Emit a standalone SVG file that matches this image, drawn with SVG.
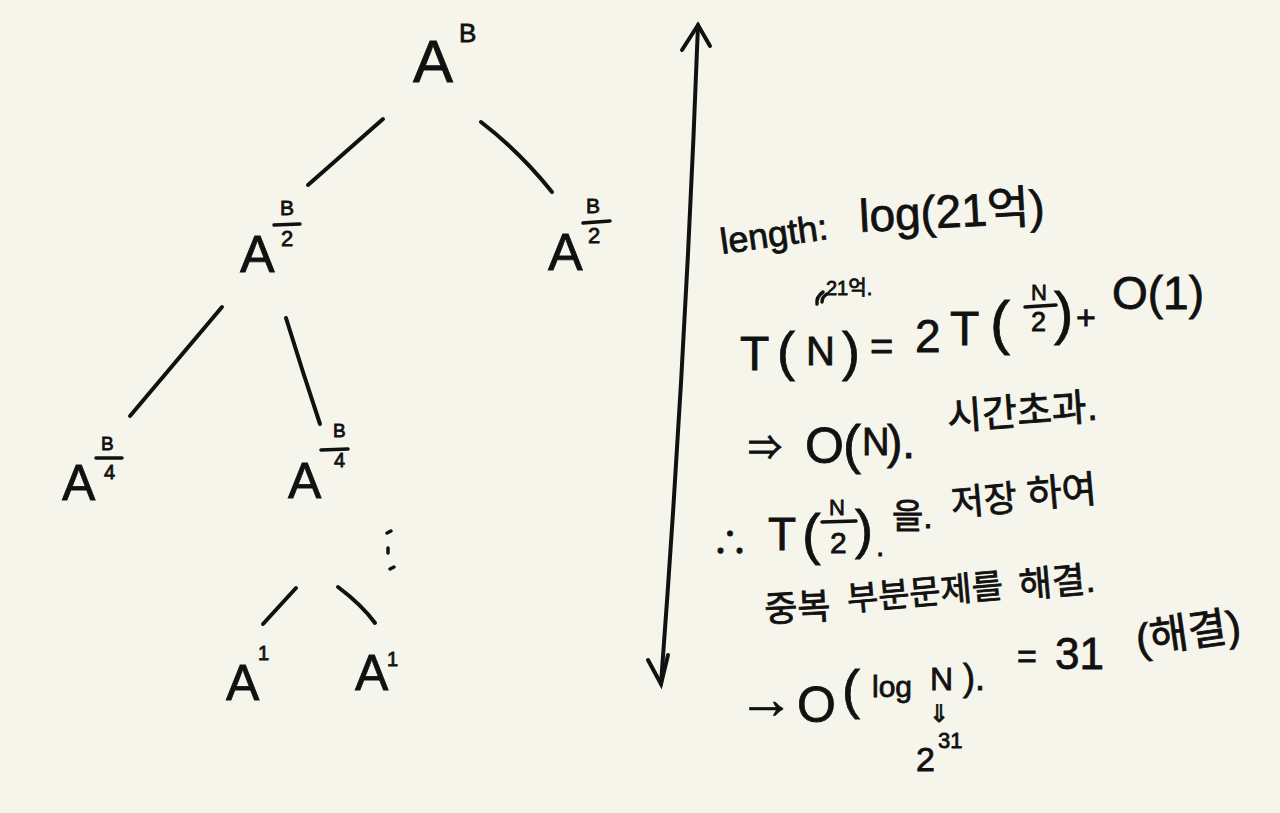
<svg xmlns="http://www.w3.org/2000/svg" width="1280" height="813" viewBox="0 0 1280 813">
<style>
text{font-family:"Liberation Sans","Noto Sans CJK KR",sans-serif;fill:#111;stroke:#111;stroke-width:0.8;}
.ln{stroke:#111;stroke-width:4;stroke-linecap:round;fill:none;}
.fr{stroke:#111;stroke-width:3.5;stroke-linecap:round;}
</style>
<rect width="1280" height="813" fill="#f6f5eb"/>
<g id="connectors">
<line class="ln" x1="383" y1="119" x2="308" y2="185"/>
<path class="ln" d="M481 122 Q520 152 552 192"/>
<line class="ln" x1="222" y1="307" x2="130" y2="416"/>
<path class="ln" d="M286 318 Q302 370 320 424"/>
<line class="ln" x1="296" y1="588" x2="263" y2="624"/>
<path class="ln" d="M338 587 Q362 605 375 623"/>
<path class="ln" d="M698 25 Q686 350 661 684"/>
<polyline class="ln" points="682,50 698,25 710,46"/>
<polyline class="ln" points="648,660 661,684 668,655"/>
</g>
<g id="node-AB">
<text x="413" y="82" font-size="60">A</text>
<text x="459" y="42" font-size="26">B</text>
</g>
<g id="node-AB2-left">
<text x="240" y="272" font-size="52">A</text>
<text x="280" y="215" font-size="21">B</text>
<line class="fr" x1="274" y1="225" x2="300" y2="224"/>
<text x="281" y="246" font-size="22">2</text>
</g>
<g id="node-AB2-right">
<text x="548" y="270" font-size="52">A</text>
<text x="586" y="213" font-size="21">B</text>
<line class="fr" x1="583" y1="223" x2="610" y2="221"/>
<text x="588" y="243" font-size="22">2</text>
</g>
<g id="node-AB4-left">
<text x="62" y="500" font-size="50">A</text>
<text x="101" y="450" font-size="19">B</text>
<line class="fr" x1="96" y1="458" x2="122" y2="458"/>
<text x="104" y="479" font-size="20">4</text>
</g>
<g id="node-AB4-right">
<text x="288" y="498" font-size="50">A</text>
<text x="333" y="437" font-size="19">B</text>
<line class="fr" x1="321" y1="450" x2="348" y2="449"/>
<text x="334" y="467" font-size="20">4</text>
</g>
<g id="dots">
<line class="fr" x1="387" y1="533" x2="391" y2="531"/>
<line class="fr" x1="388" y1="548" x2="388" y2="553"/>
<line class="fr" x1="390" y1="569" x2="394" y2="567"/>
</g>
<g id="node-A1-left">
<text x="226" y="700" font-size="50">A</text>
<text x="258" y="660" font-size="20">1</text>
</g>
<g id="node-A1-right">
<text x="355" y="690" font-size="50">A</text>
<text x="387" y="666" font-size="20">1</text>
</g>
<g id="notes">
<text x="722" y="254" font-size="36" transform="rotate(-8 722 254)">length:</text>
<text x="860" y="232" font-size="46" transform="rotate(-3 860 232)">log(21억)</text>
<text x="826" y="295" font-size="20">21억.</text>
<path class="fr" stroke-width="2.5" fill="none" d="M817 304 Q816 297 823 292 M822 302 Q822 297 827 294"/>

<text x="740" y="370" font-size="48">T</text>
<text x="777" y="370" font-size="54">(</text>
<text x="806" y="365" font-size="40">N</text>
<text x="842" y="370" font-size="54">)</text>
<text x="870" y="360" font-size="40">=</text>
<text x="915" y="352" font-size="46">2</text>
<text x="950" y="345" font-size="48">T</text>
<text x="990" y="343" font-size="60">(</text>
<text x="1031" y="300" font-size="22">N</text>
<line class="fr" x1="1025" y1="307" x2="1056" y2="305"/>
<text x="1031" y="331" font-size="27">2</text>
<text x="1054" y="333" font-size="58">)</text>
<text x="1076" y="329" font-size="34">+</text>
<text x="1112" y="309" font-size="46">O(1)</text>

<text x="748" y="460" font-size="34">⇒</text>
<text x="805" y="463" font-size="50">O</text>
<text x="843" y="463" font-size="54">(</text>
<text x="862" y="455" font-size="38">N</text>
<text x="887" y="458" font-size="46">).</text>
<text x="948" y="430" font-size="38" transform="rotate(-4 948 430)">시간초과.</text>

<text x="712" y="556" font-size="36">∴</text>
<text x="768" y="550" font-size="46">T</text>
<text x="802" y="553" font-size="56">(</text>
<text x="829" y="515" font-size="22">N</text>
<line class="fr" x1="822" y1="522" x2="856" y2="521"/>
<text x="830" y="553" font-size="30">2</text>
<text x="855" y="548" font-size="54">)</text>
<text x="876" y="556" font-size="30">.</text>
<text x="892" y="528" font-size="34">을.</text>
<text x="952" y="516" font-size="36" transform="rotate(-5 952 516)">저장</text>
<text x="1028" y="508" font-size="38" transform="rotate(-5 1028 508)">하여</text>

<text x="765" y="622" font-size="36" transform="rotate(-3 765 622)">중복</text>
<text x="848" y="611" font-size="34" transform="rotate(-5 848 611)">부분문제를</text>
<text x="1020" y="598" font-size="36" transform="rotate(-5 1020 598)">해결.</text>

<text x="738" y="718" font-size="56">→</text>
<text x="797" y="722" font-size="50">O</text>
<text x="842" y="708" font-size="54">(</text>
<text x="872" y="697" font-size="30">log</text>
<text x="930" y="690" font-size="32">N</text>
<text x="963" y="690" font-size="36">).</text>
<text x="1017" y="668" font-size="34">=</text>
<text x="1055" y="669" font-size="44">31</text>
<text x="1138" y="654" font-size="42" transform="rotate(-8 1138 654)">(해결)</text>

<text x="929" y="722" font-size="24">⇓</text>
<text x="916" y="771" font-size="34">2</text>
<text x="938" y="748" font-size="22">31</text>
</g>
</svg>
